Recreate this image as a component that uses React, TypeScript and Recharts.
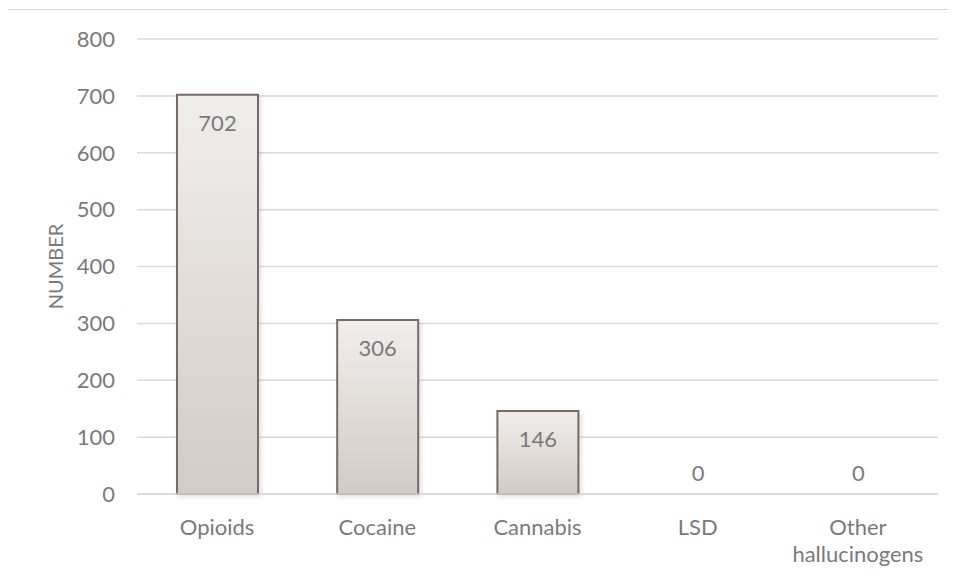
import React from 'react';
import { BarChart, Bar, XAxis, YAxis, CartesianGrid, LabelList, Rectangle } from 'recharts';

const categories = ['Opioids', 'Cocaine', 'Cannabis', 'LSD', 'Other hallucinogens'];
const counts = [702, 306, 146, 0, 0];
const yTicks = [0, 100, 200, 300, 400, 500, 600, 700, 800];

const data = categories.map((name, i) => ({ name, count: counts[i] }));

const FONT = 'Lato, "Open Sans", sans-serif';
const TEXT = '#7a7a7a';

const CategoryTick = (props: any) => {
  const { x, y, payload } = props;
  const label: string = payload.value;
  const lines = label.length > 12 ? label.split(' ') : [label];
  return (
    <text x={x} y={y} textAnchor="middle" fill={TEXT} fontSize={22} fontFamily={FONT}>
      {lines.map((line, i) => (
        <tspan key={i} x={x} dy={i === 0 ? 39 : 27}>
          {line}
        </tspan>
      ))}
    </text>
  );
};

// zero-valued bars keep a 1px slot so their label still renders, but draw no box
const BarShape = (props: any) => {
  if (!props.count) return <g />;
  return <Rectangle {...props} />;
};

const ValueLabel = (props: any) => {
  const { x, y, width, height, value } = props;
  const cy = value > 0 ? y + 28 : y + height - 22;
  return (
    <text
      x={x + width / 2}
      y={cy}
      textAnchor="middle"
      dominantBaseline="central"
      fill={TEXT}
      fontSize={22}
      fontFamily={FONT}
    >
      {value}
    </text>
  );
};

const AxisTitle = (props: any) => {
  const { viewBox } = props;
  const cy = viewBox.y + viewBox.height / 2;
  return (
    <text
      x={55}
      y={cy}
      transform={`rotate(-90 55 ${cy})`}
      textAnchor="middle"
      dominantBaseline="central"
      fill={TEXT}
      fontSize={20}
      fontFamily={FONT}
    >
      NUMBER
    </text>
  );
};

export default function App() {
  return (
    <div
      style={{
        position: 'relative',
        width: 957,
        height: 578,
        margin: '-8px 0 0 -8px',
        overflow: 'hidden',
        background: '#fff',
      }}
    >
      <div
        style={{
          position: 'absolute',
          left: 7,
          top: 9,
          width: 960,
          height: 600,
          border: '1.5px solid #d9d9d9',
        }}
      />
      <BarChart
        width={957}
        height={578}
        data={data}
        margin={{ top: 39, right: 19, bottom: 24, left: 0 }}
        style={{ position: 'absolute', left: 0, top: 0 }}
      >
        <defs>
          <linearGradient id="barFill" x1="0" y1="0" x2="0" y2="1">
            <stop offset="0%" stopColor="#f0eeec" />
            <stop offset="100%" stopColor="#d3cbc5" />
          </linearGradient>
          <filter id="barShadow" x="-10%" y="-10%" width="130%" height="130%">
            <feDropShadow dx="2" dy="2" stdDeviation="2" floodColor="#000" floodOpacity="0.12" />
          </filter>
        </defs>
        <CartesianGrid vertical={false} stroke="#d9d9d9" strokeWidth={1.5} />
        <XAxis
          dataKey="name"
          height={60}
          axisLine={{ stroke: '#d9d9d9', strokeWidth: 1.5 }}
          tickLine={false}
          tickSize={0}
          interval={0}
          tick={<CategoryTick />}
        />
        <YAxis
          width={137}
          domain={[0, 800]}
          ticks={yTicks}
          axisLine={false}
          tickLine={false}
          tickSize={0}
          tickMargin={22}
          tick={{ fill: TEXT, fontSize: 22, fontFamily: FONT }}
          label={<AxisTitle />}
        />
        <Bar
          dataKey="count"
          barSize={81}
          minPointSize={1}
          fill="url(#barFill)"
          stroke="#7a6b63"
          strokeWidth={2}
          filter="url(#barShadow)"
          shape={<BarShape />}
          isAnimationActive={false}
        >
          <LabelList dataKey="count" content={<ValueLabel />} />
        </Bar>
      </BarChart>
    </div>
  );
}
